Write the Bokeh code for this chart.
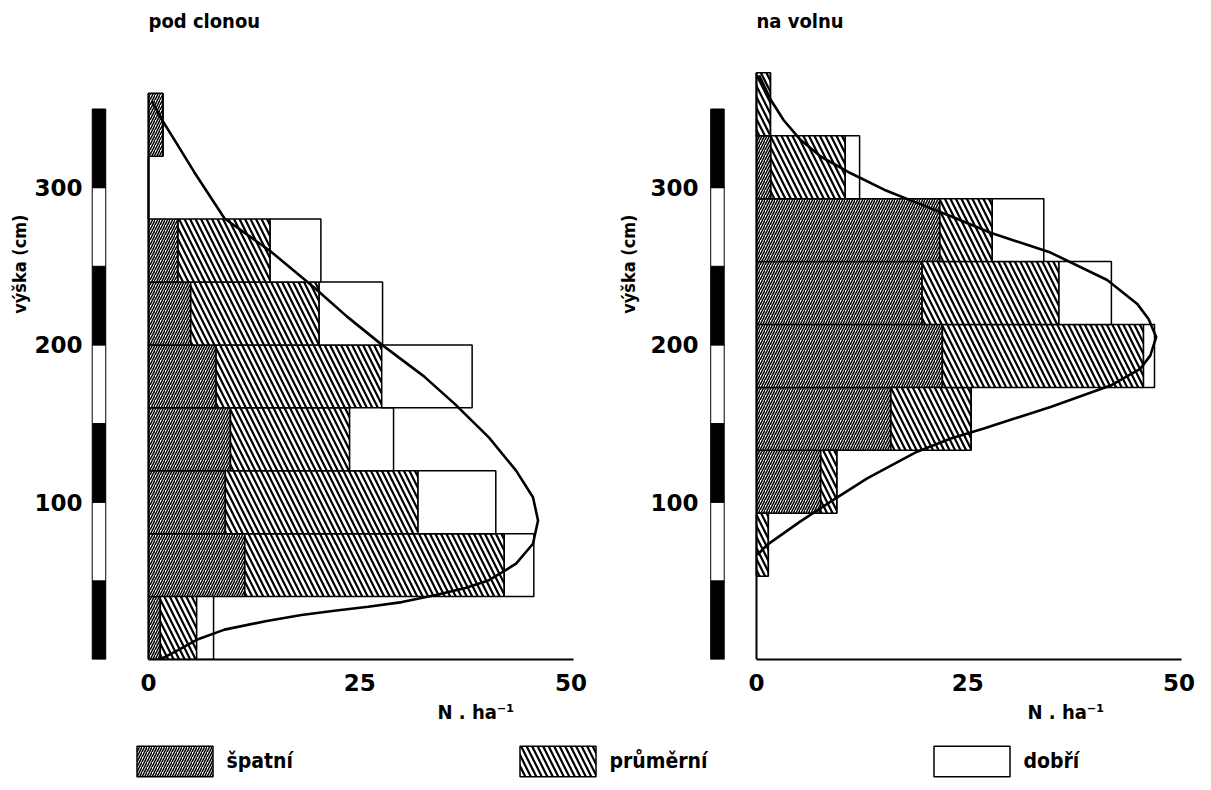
from bokeh.plotting import figure
from bokeh.layouts import row, column
from bokeh.models import ColumnDataSource, Range1d, FixedTicker, Title, Legend, LegendItem
from bokeh.core.properties import value
from bokeh.embed import file_html
from bokeh.resources import INLINE

# ---------------- data ----------------
BIN_W = 40  # height class width (cm)
categories = ["špatní", "průměrní", "dobří"]

left_bins = [0, 40, 80, 120, 160, 200, 240, 280, 320]          # class bottom (cm)
left_spatni = [1.4, 11.4, 9.1, 9.7, 8.0, 5.0, 3.5, 0, 1.7]
left_prumerni = [4.3, 30.7, 22.8, 14.1, 19.6, 15.2, 10.9, 0, 0]
left_dobri = [2.0, 3.5, 9.2, 5.2, 10.7, 7.5, 6.0, 0, 0]
left_curve_n = [1.4, 3.5, 5.7, 9.0, 14.0, 18.1, 22.0, 26.0, 30.0, 34.0, 37.5, 40.3, 43.5,
                45.5, 46.1, 45.5, 43.5, 40.3, 36.3, 32.6, 27.6, 23.5, 19.7, 14.5, 9.0,
                5.4, 3.0, 1.6, 0.4]
left_curve_h = [0, 6, 12.5, 19, 24.5, 28.3, 31, 33.5, 36.5, 41.0, 45.5, 50.4, 60.9,
                73.6, 88.4, 103.2, 120.1, 141.1, 162.2, 180, 200.2, 218, 236, 259.3, 280.4,
                310, 331, 343, 355]

right_bins = [53, 93, 133, 173, 213, 253, 293, 333]
right_spatni = [0, 7.6, 15.9, 22.0, 19.6, 21.7, 1.7, 0]
right_prumerni = [1.4, 1.9, 9.5, 23.8, 16.2, 6.2, 8.8, 1.65]
right_dobri = [0, 0, 0, 1.3, 6.2, 6.1, 1.7, 0]
right_curve_n = [0.1, 1.3, 5.2, 9.1, 13.1, 19.0, 23.0, 26.9, 34.8, 41.9, 45.4, 46.6, 47.3,
                 46.4, 45.1, 41.5, 34.8, 27.7, 23.0, 19.0, 15.1, 11.1, 7.6, 5.2, 3.2, 1.7, 0.3]
right_curve_h = [66.6, 73, 87.8, 101.5, 115.2, 132.1, 140.5, 146.8, 160.6, 174.2, 184.8, 193.2, 205,
                 216.5, 225.8, 241.3, 258.7, 271.3, 281.8, 290.3, 298.7, 309.3, 319.8, 330.4, 343, 355.7, 371.5]

x_ticks = [0, 25, 50]
y_ticks = [100, 200, 300]
scale_edges = [0, 50, 100, 150, 200, 250, 300, 350]

# ---------------- style ----------------
FONT = "DejaVu Sans Condensed, DejaVu Sans"
TICK_FONT = "DejaVu Sans"
HATCH = ["/", "\\", " "]
HATCH_SCALE = [5, 11, 1]
HATCH_WEIGHT = [1.5, 2.2, 1]
PX_PER_N = 8.45
PX_PER_CM = 1.58
FRAME_BOTTOM = 662
TXT = dict(text_font=FONT, text_font_style="bold", text_color="black")


def panel(title, bins, sp, pr, do, cn, ch, x0_px, frame_left_px, frame_right_px,
          width, mb_left, mb_right, scale_x, nha_offset, ylab_standoff):
    p = figure(width=width, height=728, output_backend="svg", toolbar_location=None,
               x_range=Range1d((frame_left_px - x0_px) / PX_PER_N, (frame_right_px - x0_px) / PX_PER_N),
               y_range=Range1d(0, FRAME_BOTTOM / PX_PER_CM),
               min_border_left=mb_left, min_border_right=mb_right,
               min_border_top=0, min_border_bottom=66)
    p.outline_line_color = None
    p.grid.visible = False
    p.background_fill_color = "white"

    src = ColumnDataSource(dict(mid=[b + BIN_W / 2 for b in bins],
                                spatni=sp, prumerni=pr, dobri=do))
    p.hbar_stack(["spatni", "prumerni", "dobri"], y="mid", height=BIN_W, source=src,
                 fill_color="white", line_color="black", line_width=1.5,
                 hatch_pattern=HATCH, hatch_scale=HATCH_SCALE, hatch_weight=HATCH_WEIGHT,
                 hatch_color="black")

    # y axis line along the bars
    p.segment(x0=[0], y0=[0], x1=[0], y1=[bins[-1] + BIN_W], line_color="black", line_width=2)

    # scale bar (50 cm blocks)
    p.vbar(x=scale_x, width=1.6, bottom=scale_edges[:-1], top=scale_edges[1:],
           fill_color=["black" if i % 2 == 0 else "white" for i in range(len(scale_edges) - 1)],
           line_color="black", line_width=1)

    # fitted curve
    p.line(cn, ch, line_color="black", line_width=2.6)

    # panel title
    p.text(x=[0], y=[(FRAME_BOTTOM - 21) / PX_PER_CM], text=[title], text_align="left",
           text_baseline="middle", text_font=value(FONT), text_font_style="bold",
           text_font_size="20px", text_color="black")

    # axes
    xa = p.xaxis[0]
    xa.ticker = FixedTicker(ticks=x_ticks)
    xa.bounds = (0, 50.3)
    xa.axis_line_width = 2
    xa.major_tick_line_color = None
    xa.minor_tick_line_color = None
    xa.major_tick_out = 0
    xa.minor_tick_out = 0
    xa.major_label_standoff = 14
    xa.major_label_text_font = TICK_FONT
    xa.major_label_text_font_style = "bold"
    xa.major_label_text_font_size = "23px"
    xa.major_label_text_color = "black"

    ya = p.yaxis[0]
    ya.ticker = FixedTicker(ticks=y_ticks)
    ya.axis_line_color = None
    ya.major_tick_line_color = None
    ya.minor_tick_line_color = None
    ya.major_tick_out = 0
    ya.minor_tick_out = 0
    ya.major_tick_in = 0
    ya.minor_tick_in = 0
    ya.major_label_standoff = 4
    ya.major_label_text_font = TICK_FONT
    ya.major_label_text_font_style = "bold"
    ya.major_label_text_font_size = "23px"
    ya.major_label_text_color = "black"

    # vertical axis title
    p.add_layout(Title(text="výška (cm)", align="right", offset=214, standoff=ylab_standoff,
                       text_font_size="18px", **TXT), "left")
    # unit label under the x axis
    p.add_layout(Title(text="N . ha⁻¹", align="left", offset=nha_offset, standoff=9,
                       text_font_size="20px", **TXT), "below")
    return p, src


p1, src1 = panel("pod clonou", left_bins, left_spatni, left_prumerni, left_dobri,
                 left_curve_n, left_curve_h, 148, 86, 580, 600, 86, 20, -5.86, 351, 4)
p2, src2 = panel("na volnu", right_bins, right_spatni, right_prumerni, right_dobri,
                 right_curve_n, right_curve_h, 756, 702, 1190, 611, 102, 21, -4.62, 325, 17)

# ---------------- legend strip ----------------
pl = figure(width=1211, height=60, output_backend="svg", toolbar_location=None,
            x_range=Range1d(0, 1), y_range=Range1d(0, 1),
            min_border_left=0, min_border_right=0, min_border_top=0, min_border_bottom=0)
pl.axis.visible = False
pl.grid.visible = False
pl.outline_line_color = None

fields = ["spatni", "prumerni", "dobri"]
swatch_left = [136, 519, 933]
for i, (cat, f) in enumerate(zip(categories, fields)):
    r = pl.hbar(y="mid", left=0, right=f, height=BIN_W, source=src1,
                fill_color="white", line_color="black", line_width=1.5,
                hatch_pattern=HATCH[i], hatch_scale=HATCH_SCALE[i], hatch_weight=HATCH_WEIGHT[i],
                hatch_color="black", visible=False)
    lg = Legend(items=[LegendItem(label=cat, renderers=[r])],
                location=(swatch_left[i] - 9.5, 8),
                glyph_width=95, glyph_height=38, label_standoff=5,
                padding=0, margin=0, border_line_color=None, background_fill_alpha=0,
                label_text_font=FONT, label_text_font_style="bold",
                label_text_font_size="21px", label_text_color="black")
    pl.add_layout(lg)

layout = column(row(p1, p2), pl)
open("out.html", "w").write(file_html(layout, INLINE))
